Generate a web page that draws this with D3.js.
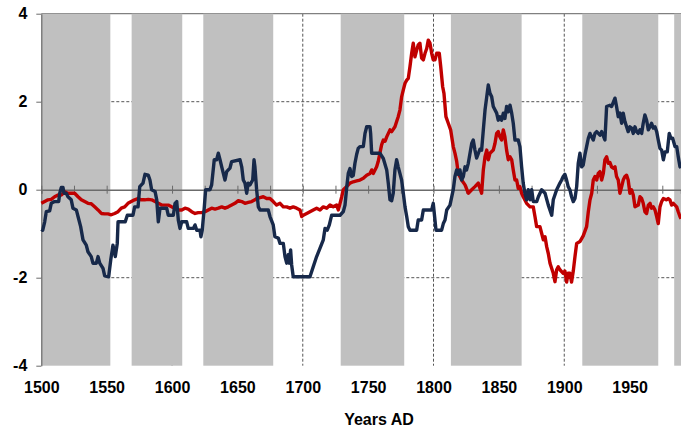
<!DOCTYPE html>
<html>
<head>
<meta charset="utf-8">
<script src="https://cdn.jsdelivr.net/npm/d3@7/dist/d3.min.js"></script>
<style>
  html, body { margin: 0; padding: 0; background: #ffffff; }
  svg { display: block; font-family: "Liberation Sans", Arial, Helvetica, sans-serif; }
</style>
</head>
<body>
<svg id="chart" width="681" height="428"></svg>
<script>
// Axis ticks
const yearTicks = [1500, 1550, 1600, 1650, 1700, 1750, 1800, 1850, 1900, 1950];
const minorYearTicks = d3.range(1500, 1990, 25);
const valueTicks = [-4, -2, 0, 2, 4];
const gridYears = [1600, 1700, 1800, 1900];
const gridValues = [2, -2];

// Shaded periods [start year, end year]
const shadedPeriods = [
  [1500, 1552.8], [1569.1, 1607.8], [1623.9, 1677.4], [1729.0, 1777.6],
  [1813.3, 1867.4], [1913.8, 1971.9], [1984.1, 1995]
];

// Dark blue series [year, value]
const blueSeries = [
  [1500,-0.9],[1501.1,-0.92],[1502.6,-0.73],[1503.8,-0.5],[1506.4,-0.48],[1507.6,-0.31],[1510.2,-0.27],
  [1513.3,-0.27],[1514.1,-0.08],[1515.3,0.05],[1516.6,0.05],[1517.4,-0.08],[1519.1,-0.08],[1520.4,-0.16],
  [1522.9,-0.23],[1524.2,-0.42],[1526.8,-0.46],[1528.1,-0.61],[1530.1,-0.84],[1531.9,-1.14],[1534.4,-1.26],
  [1535.7,-1.41],[1538.2,-1.52],[1539.5,-1.67],[1542.1,-1.67],[1543.4,-1.52],[1544.7,-1.67],[1547.2,-1.79],
  [1548.5,-1.96],[1551.5,-1.98],[1553.1,-1.6],[1554.8,-1.26],[1556.6,-1.52],[1558.1,-1.22],[1558.7,-0.73],
  [1564.2,-0.73],[1565.8,-0.58],[1570.1,-0.58],[1571.4,-0.39],[1574.0,-0.39],[1575.3,0.07],[1577.8,0.15],
  [1579.3,0.35],[1581.8,0.33],[1583.1,0.22],[1584.4,0],[1587.0,-0.04],[1588.3,-0.23],[1589.5,-0.73],
  [1590.8,-0.42],[1595.9,-0.42],[1597.1,-0.58],[1601.0,-0.58],[1602.3,-0.31],[1603.6,-0.27],[1604.8,-0.69],
  [1606.1,-0.88],[1607.4,-0.73],[1611.2,-0.73],[1612.4,-0.88],[1616.3,-0.88],[1617.6,-0.8],[1618.9,-0.92],
  [1621.4,-0.92],[1622.1,-1.07],[1623.1,-0.92],[1624.7,-0.39],[1625.7,0],[1629.0,0],[1630.3,0.11],
  [1632.3,0.68],[1634.1,0.68],[1635.4,0.83],[1636.7,0.68],[1638.0,0.52],[1640.5,0.22],[1641.8,0.41],
  [1644.3,0.49],[1645.6,0.64],[1652.0,0.68],[1653.3,0.52],[1654.5,0.22],[1655.8,0.15],[1657.1,-0.08],
  [1658.3,0.15],[1659.6,0.11],[1661.7,0.22],[1662.7,0.68],[1663.4,0.52],[1664.7,0],[1666.0,-0.39],
  [1667.3,-0.46],[1673.6,-0.46],[1674.9,-0.61],[1677.4,-0.8],[1678.7,-1.07],[1681.3,-1.1],[1682.6,-1.22],
  [1685.1,-1.22],[1686.4,-1.52],[1687.7,-1.67],[1688.9,-1.48],[1689.7,-1.67],[1690.7,-1.37],[1691.5,-1.71],
  [1692.7,-1.98],[1705.5,-1.98],[1708.0,-1.75],[1710.6,-1.52],[1713.2,-1.33],[1715.7,-1.14],[1717.0,-0.88],
  [1718.7,-0.92],[1720.3,-0.8],[1722.1,-0.58],[1728.5,-0.58],[1731.0,-0.5],[1732.3,-0.35],[1733.6,0.05],
  [1734.8,0.37],[1736.1,0.48],[1737.4,0.3],[1738.6,0.32],[1739.9,0.6],[1741.2,0.8],[1742.4,0.94],
  [1743.7,0.98],[1746.3,0.98],[1747.6,1.28],[1748.9,1.43],[1751.4,1.43],[1751.9,1.28],[1752.7,0.83],
  [1759.0,0.83],[1761.6,0.71],[1764.2,0.45],[1765.4,0.15],[1766.7,-0.23],[1768.0,-0.25],[1769.2,-0.08],
  [1770.5,0.45],[1771.8,0.68],[1773.0,0.52],[1774.3,0.37],[1775.6,0.22],[1776.9,-0.08],[1778.2,-0.39],
  [1779.5,-0.61],[1780.7,-0.84],[1782.0,-0.92],[1787.1,-0.92],[1788.3,-0.69],[1790.9,-0.69],[1792.2,-0.46],
  [1798.6,-0.46],[1799.8,-0.31],[1800.6,-0.54],[1801.9,-0.92],[1806.2,-0.92],[1807.5,-0.77],[1808.8,-0.69],
  [1810.1,-0.46],[1812.6,-0.35],[1815.1,0],[1816.4,0.3],[1817.7,0.45],[1818.9,0.35],[1820.2,0.45],
  [1821.5,0.22],[1822.8,0.3],[1824.1,0.52],[1825.3,0.45],[1826.6,0.6],[1829.2,1.05],[1830.4,1.13],
  [1831.7,0.9],[1833.0,0.72],[1835.5,0.92],[1836.8,0.9],[1838.1,1.36],[1839.4,1.81],[1840.7,2.11],
  [1841.9,2.38],[1843.2,2.19],[1844.5,2.11],[1845.7,1.89],[1848.3,1.74],[1849.5,1.58],[1850.8,1.66],
  [1852.1,1.58],[1853.4,1.74],[1854.6,1.62],[1855.9,1.89],[1857.2,1.77],[1858.5,1.92],[1859.8,1.74],
  [1861.0,1.51],[1862.3,1.13],[1864.8,1.13],[1866.1,0.98],[1867.4,0.52],[1868.6,0.15],[1869.9,-0.08],
  [1871.2,-0.23],[1872.5,0],[1873.8,-0.23],[1875.1,0],[1876.3,-0.27],[1878.9,-0.27],[1880.2,-0.16],
  [1882.7,0],[1885.3,-0.08],[1887.8,-0.35],[1890.4,-0.58],[1891.6,-0.23],[1894.2,0],[1896.7,0.15],
  [1898.0,0.22],[1899.2,0.3],[1900.5,0.35],[1901.8,0.22],[1903.0,0.07],[1904.3,0],[1905.6,-0.16],
  [1906.9,-0.27],[1908.2,-0.2],[1909.5,0.07],[1910.7,0.6],[1912.0,0.83],[1913.3,0.52],[1914.5,0.56],
  [1915.8,0.79],[1917.1,0.98],[1918.4,1.17],[1919.7,1.28],[1921.0,1.2],[1922.2,1.13],[1923.5,1.28],
  [1924.8,1.32],[1927.3,1.24],[1928.6,1.32],[1931.1,1.13],[1932.4,1.89],[1934.9,1.92],[1936.2,1.89],
  [1938.8,2.08],[1940.0,1.89],[1941.3,1.66],[1942.6,1.74],[1943.9,1.51],[1945.1,1.74],[1946.4,1.55],
  [1947.7,1.43],[1948.9,1.32],[1950.2,1.43],[1951.5,1.4],[1952.8,1.28],[1954.1,1.43],[1955.3,1.32],
  [1956.6,1.28],[1957.9,1.36],[1959.2,1.28],[1960.4,1.51],[1961.7,1.7],[1963.0,1.58],[1964.3,1.36],
  [1965.6,1.43],[1966.8,1.51],[1968.1,1.4],[1969.4,1.43],[1970.7,1.32],[1971.9,1.13],[1973.2,0.94],
  [1974.5,0.9],[1975.8,0.68],[1977.1,0.86],[1978.8,0.86],[1980.3,1.28],[1981.6,1.17],[1982.9,1.17],
  [1984.7,0.98],[1986.0,0.98],[1987.2,0.75],[1988.5,0.52],[1989.3,0.5]
];

// Red series [year, value]
const redSeries = [
  [1500,-0.31],[1502.6,-0.27],[1505.1,-0.23],[1507.6,-0.22],[1510.2,-0.16],[1512.8,-0.12],[1515.3,-0.12],
  [1517.9,-0.05],[1520.4,-0.08],[1522.9,-0.08],[1525.5,-0.08],[1528.1,-0.16],[1530.6,-0.23],[1533.2,-0.27],
  [1535.7,-0.31],[1538.2,-0.32],[1540.8,-0.39],[1543.4,-0.46],[1545.9,-0.54],[1548.5,-0.55],[1551.0,-0.55],
  [1553.5,-0.57],[1556.1,-0.54],[1558.7,-0.5],[1561.2,-0.42],[1563.8,-0.39],[1566.3,-0.31],[1568.8,-0.27],
  [1571.4,-0.23],[1574.0,-0.2],[1576.5,-0.23],[1579.1,-0.23],[1581.8,-0.22],[1584.4,-0.23],[1587.0,-0.27],
  [1589.5,-0.31],[1592.1,-0.35],[1594.6,-0.35],[1597.1,-0.35],[1599.7,-0.39],[1602.3,-0.42],[1604.8,-0.46],
  [1607.4,-0.46],[1609.9,-0.42],[1612.4,-0.44],[1615.0,-0.5],[1617.6,-0.54],[1620.1,-0.52],[1622.7,-0.52],
  [1625.2,-0.5],[1627.7,-0.46],[1630.3,-0.42],[1632.9,-0.44],[1635.4,-0.42],[1638.0,-0.39],[1640.5,-0.42],
  [1643.0,-0.39],[1645.6,-0.35],[1648.1,-0.31],[1650.7,-0.25],[1653.3,-0.27],[1655.8,-0.31],[1658.3,-0.29],
  [1660.9,-0.27],[1663.4,-0.23],[1664.7,-0.2],[1667.3,-0.18],[1669.8,-0.16],[1672.4,-0.2],[1674.9,-0.2],
  [1677.4,-0.27],[1680.0,-0.35],[1682.6,-0.31],[1685.1,-0.39],[1687.7,-0.39],[1690.2,-0.42],[1692.7,-0.39],
  [1695.3,-0.42],[1697.9,-0.46],[1699.2,-0.61],[1700.4,-0.58],[1703.0,-0.54],[1705.5,-0.5],[1708.0,-0.46],
  [1710.6,-0.42],[1713.2,-0.46],[1715.7,-0.39],[1718.3,-0.42],[1720.8,-0.35],[1723.3,-0.39],[1725.9,-0.35],
  [1727.2,-0.46],[1728.5,-0.31],[1729.8,-0.16],[1731.0,0],[1733.6,0.07],[1736.1,0.15],[1738.6,0.18],
  [1741.2,0.2],[1743.7,0.22],[1746.3,0.26],[1748.9,0.33],[1751.4,0.37],[1752.7,0.45],[1753.9,0.37],
  [1756.5,0.52],[1757.7,0.64],[1759.0,0.83],[1760.3,1.02],[1761.6,1.13],[1762.9,1.1],[1764.2,1.2],
  [1766.7,1.36],[1768.0,1.32],[1770.5,1.43],[1771.8,1.55],[1773.0,1.66],[1774.3,1.81],[1775.6,2.11],
  [1776.9,2.27],[1778.2,2.42],[1779.5,2.49],[1780.7,2.53],[1782.0,2.8],[1783.3,3.1],[1784.5,3.33],
  [1785.8,3.02],[1787.1,3.17],[1788.3,3.29],[1789.6,3.33],[1790.9,2.99],[1792.2,2.95],[1793.5,3.1],
  [1794.8,3.21],[1796.0,3.4],[1797.3,3.33],[1798.6,3.1],[1799.8,2.95],[1801.1,2.95],[1802.4,3.1],
  [1804.4,3.1],[1805.5,2.8],[1807.0,2.34],[1808.0,2.19],[1809.5,1.66],[1811.3,1.51],[1813.1,1.36],
  [1815.1,0.98],[1816.4,0.83],[1817.7,0.65],[1818.9,0.37],[1821.5,0.22],[1824.1,0.11],[1826.6,-0.08],
  [1829.2,0],[1831.7,0.07],[1834.2,0.15],[1836.8,-0.08],[1838.1,0.45],[1839.4,0.75],[1840.7,0.9],
  [1841.9,0.68],[1843.2,0.83],[1845.7,0.9],[1847.0,1.05],[1848.3,1.28],[1849.5,1.32],[1850.8,1.2],
  [1852.1,1.13],[1853.4,1.36],[1854.6,1.2],[1855.9,0.9],[1857.2,0.68],[1858.5,0.75],[1859.8,0.68],
  [1861.0,0.45],[1862.3,0.22],[1863.6,0.22],[1864.8,0.03],[1866.1,0.07],[1867.4,-0.08],[1868.6,-0.16],
  [1871.2,-0.31],[1873.8,-0.39],[1876.3,-0.39],[1877.6,-0.61],[1878.9,-0.84],[1881.4,-0.84],[1882.7,-0.99],
  [1884.0,-1.14],[1885.3,-1.07],[1886.6,-1.3],[1887.8,-1.45],[1889.1,-1.67],[1891.6,-1.9],[1892.9,-2.09],
  [1894.2,-1.82],[1895.4,-1.75],[1896.7,-1.82],[1899.2,-1.9],[1900.5,-1.85],[1901.8,-2.1],[1903.0,-1.9],
  [1904.3,-1.9],[1905.6,-2.1],[1906.9,-1.85],[1908.2,-1.52],[1909.5,-1.22],[1912.0,-1.18],[1914.5,-1.05],
  [1917.1,-0.84],[1918.4,-0.5],[1919.7,-0.23],[1921.0,-0.08],[1922.2,0.22],[1923.5,0.3],[1924.8,0.22],
  [1926.0,0.37],[1927.3,0.41],[1928.6,0.22],[1929.9,0.37],[1931.1,0.68],[1932.4,0.75],[1933.7,0.6],
  [1934.9,0.62],[1936.2,0.52],[1937.5,0.49],[1938.8,0.52],[1940.0,0.3],[1941.3,0.22],[1942.6,-0.08],
  [1943.9,0.07],[1945.1,0.22],[1946.4,0.3],[1947.7,0.33],[1948.9,0.22],[1950.2,-0.08],[1951.5,0],
  [1952.8,-0.12],[1954.1,-0.39],[1956.6,-0.35],[1957.9,-0.16],[1959.2,-0.2],[1960.4,-0.31],[1961.7,-0.5],
  [1963.0,-0.54],[1964.3,-0.35],[1965.6,-0.31],[1966.8,-0.42],[1968.1,-0.39],[1969.4,-0.46],[1970.7,-0.61],
  [1971.9,-0.77],[1973.2,-0.39],[1974.5,-0.27],[1975.8,-0.2],[1978.3,-0.23],[1979.5,-0.2],[1980.8,-0.23],
  [1982.1,-0.35],[1983.4,-0.31],[1984.7,-0.35],[1986.0,-0.39],[1987.2,-0.5],[1988.5,-0.61],[1989.3,-0.66]
];

const width = 681, height = 428;
const svg = d3.select("#chart");

const x = d3.scaleLinear().domain([1500, 1989.3]).range([41.3, 681]);
const y = d3.scaleLinear().domain([-4, 4]).range([365.7, 13.7]);

const plotLeft = x(1500), plotRight = width;
const plainNumber = d => String(d);

// Gridlines
const grid = svg.append("g");
grid.selectAll("line.hgrid").data(gridValues).join("line")
  .attr("x1", plotLeft).attr("x2", plotRight)
  .attr("y1", d => y(d)).attr("y2", d => y(d))
  .attr("stroke", "#555").attr("stroke-width", 1).attr("stroke-dasharray", "3,2");
grid.selectAll("line.vgrid").data(gridYears).join("line")
  .attr("x1", d => x(d)).attr("x2", d => x(d))
  .attr("y1", y(4)).attr("y2", y(-4))
  .attr("stroke", "#555").attr("stroke-width", 1).attr("stroke-dasharray", "3,2");
grid.append("line")
  .attr("x1", plotLeft).attr("x2", plotRight)
  .attr("y1", y(4)).attr("y2", y(4))
  .attr("stroke", "#808080").attr("stroke-width", 1.2);

// Shaded periods
svg.append("g").selectAll("rect").data(shadedPeriods).join("rect")
  .attr("x", d => x(d[0]))
  .attr("width", d => Math.min(x(d[1]), plotRight) - x(d[0]))
  .attr("y", y(4)).attr("height", y(-4) - y(4))
  .attr("fill", "#c0c0c0");

// Zero line with tick marks
const zeroAxis = svg.append("g").attr("transform", `translate(0,${y(0)})`)
  .call(d3.axisBottom(x).tickValues(minorYearTicks).tickSize(4).tickFormat(""));
zeroAxis.select(".domain").attr("stroke", "#6b6b6b").attr("stroke-width", 1.5);
zeroAxis.selectAll(".tick line").attr("y1", -4).attr("y2", 4).attr("stroke", "#6b6b6b");

// Value axis
const yAxis = svg.append("g").attr("transform", `translate(${plotLeft},0)`)
  .call(d3.axisLeft(y).tickValues(valueTicks).tickSize(5).tickSizeOuter(0).tickPadding(9).tickFormat(plainNumber));
yAxis.select(".domain").attr("stroke", "#6b6b6b").attr("stroke-width", 1.2);
yAxis.selectAll(".tick line").attr("stroke", "#6b6b6b");
yAxis.selectAll(".tick text")
  .attr("font-family", "Liberation Sans, Arial, sans-serif")
  .attr("font-size", 16).attr("font-weight", "bold").attr("fill", "#000");

// Year labels
const xAxis = svg.append("g").attr("transform", `translate(0,${y(-4)})`)
  .call(d3.axisBottom(x).tickValues(yearTicks).tickSize(0).tickPadding(16).tickFormat(plainNumber));
xAxis.select(".domain").remove();
xAxis.selectAll(".tick text")
  .attr("font-family", "Liberation Sans, Arial, sans-serif")
  .attr("font-size", 16).attr("font-weight", "bold").attr("fill", "#000");

// Axis title
svg.append("text")
  .attr("x", 379).attr("y", 425)
  .attr("text-anchor", "middle")
  .attr("font-size", 16).attr("font-weight", "bold").attr("fill", "#000")
  .text("Years AD");

// Series lines
const line = d3.line().x(d => x(d[0])).y(d => y(d[1]));
const seriesGroup = svg.append("g");
seriesGroup.append("path").datum(redSeries)
  .attr("d", line).attr("fill", "none")
  .attr("stroke", "#c00000").attr("stroke-width", 3.4).attr("stroke-linejoin", "round");
seriesGroup.append("path").datum(blueSeries)
  .attr("d", line).attr("fill", "none")
  .attr("stroke", "#17294a").attr("stroke-width", 3.4).attr("stroke-linejoin", "round");
</script>
</body>
</html>
